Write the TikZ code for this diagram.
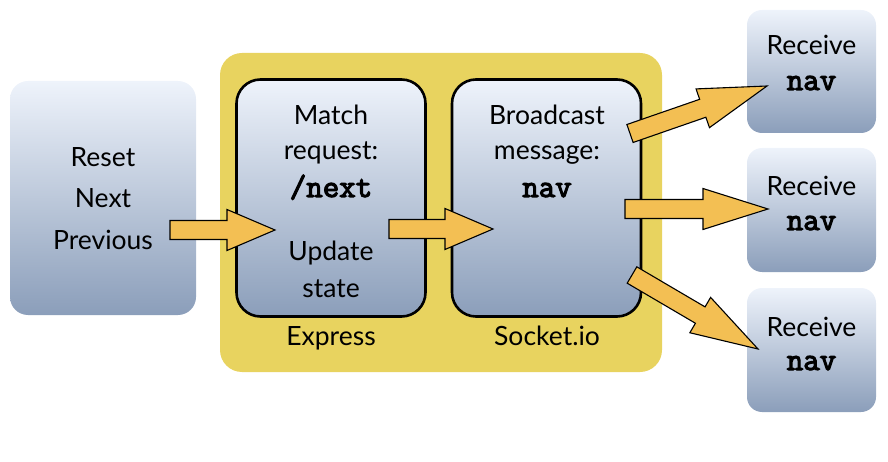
\documentclass[tikz,border=0pt]{standalone}
\usepackage{fontspec}
\setmainfont{Lato}
\newfontfamily\codefont{Latin Modern Mono}[FakeBold=3.6]
\usetikzlibrary{calc}
\definecolor{boxtop}{HTML}{EEF3FB}
\definecolor{boxbot}{HTML}{8B9EBA}
\definecolor{contyel}{HTML}{E8D35F}
\definecolor{arrfill}{HTML}{F3BF53}
\tikzset{
  softbox/.style={rectangle, inner sep=0pt, top color=boxtop, bottom color=boxbot, rounded corners=18pt},
  stagebox/.style={softbox, draw=black, line width=2.6pt, rounded corners=24pt},
  container/.style={rectangle, inner sep=0pt, fill=contyel, rounded corners=22pt},
  lbl/.style={inner sep=0pt, anchor=base, font=\fontsize{26.5}{30}\selectfont},
  code/.style={inner sep=0pt, anchor=base, font=\fontsize{32}{34}\selectfont\codefont},
  arrowfill/.style={fill=arrfill, draw=black, line width=1.1pt, line join=miter},
}
\newcommand\blockarrow[5]{%
  \coordinate (#1-#2-h) at ($(#2)!#5!(#1)$);
  \draw[arrowfill] ($(#1)!#3!90:(#2)$) -- ($(#1-#2-h)!#3!90:(#2)$) -- ($(#1-#2-h)!#4!90:(#2)$) -- (#2)
    -- ($(#1-#2-h)!#4!-90:(#2)$) -- ($(#1-#2-h)!#3!-90:(#2)$) -- ($(#1)!#3!-90:(#2)$) -- cycle;
}
\begin{document}
\begin{tikzpicture}[x=1pt, y=-1pt]
\useasboundingbox (0,0) rectangle (888,462);
% container
\node[container, minimum width=442pt, minimum height=319pt] (cont) at (441,212.5) {};
% boxes
\node[softbox, minimum width=186pt, minimum height=234pt] (left) at (103,198) {};
\node[stagebox, minimum width=189pt, minimum height=237pt] (express) at (331,198) {};
\node[stagebox, minimum width=189pt, minimum height=237pt] (socket) at (546.5,198) {};
\node[softbox, rounded corners=15pt, minimum width=129pt, minimum height=123pt] (r1) at (811.5,71.5) {};
\node[softbox, rounded corners=15pt, minimum width=129pt, minimum height=124pt] (r2) at (811.5,210) {};
\node[softbox, rounded corners=15pt, minimum width=129pt, minimum height=124pt] (r3) at (811.5,350) {};
% texts
\node[lbl] (reset) at (103,167) {Reset};
\node[lbl] (next) at (103,208) {Next};
\node[lbl] (prev) at (103,250) {Previous};
\node[lbl] (match) at (331,125) {Match};
\node[lbl] (req) at (331,160) {request:};
\node[code] (nextc) at (331,197) {/next};
\node[lbl] (upd) at (331,261) {Update};
\node[lbl] (state) at (331,297) {state};
\node[lbl] (bc) at (547,125) {Broadcast};
\node[lbl] (msg) at (547,160) {message:};
\node[code] (navc) at (547,197) {nav};
\node[lbl] (expl) at (331,345) {Express};
\node[lbl] (sockl) at (547,345) {Socket.io};
\node[lbl] (rc1) at (811.5,55) {Receive};
\node[code] (rn1) at (811.5,90) {nav};
\node[lbl] (rc2) at (811.5,196) {Receive};
\node[code] (rn2) at (811.5,230) {nav};
\node[lbl] (rc3) at (811.5,336) {Receive};
\node[code] (rn3) at (811.5,370) {nav};
% arrow ends
\coordinate (a1t) at (170,230);
\coordinate (a1p) at (275,230);
\coordinate (a2t) at (389,229);
\coordinate (a2p) at (493,229);
\coordinate (a3t) at (630,133.5);
\coordinate (a3p) at (767,86);
\coordinate (a4t) at (625,209);
\coordinate (a4p) at (768,209);
\coordinate (a5t) at (632,275);
\coordinate (a5p) at (758,349);
\blockarrow{a1t}{a1p}{9.5pt}{20.5pt}{48pt}
\blockarrow{a2t}{a2p}{9.5pt}{20.5pt}{48pt}
\blockarrow{a3t}{a3p}{9.5pt}{20.5pt}{68pt}
\blockarrow{a4t}{a4p}{9.5pt}{20.5pt}{65pt}
\blockarrow{a5t}{a5p}{9.5pt}{20.5pt}{67pt}
\end{tikzpicture}
\end{document}
